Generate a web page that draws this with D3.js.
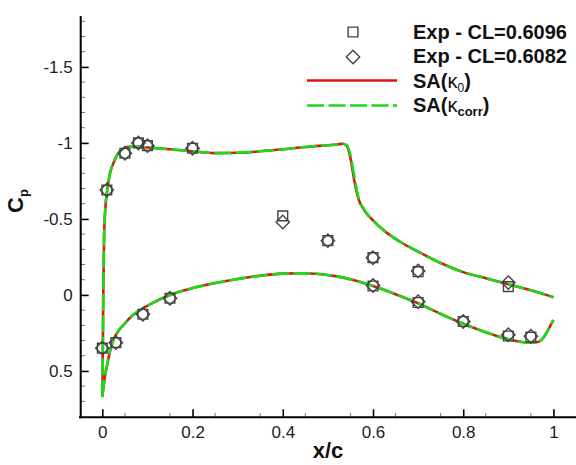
<!DOCTYPE html>
<html>
<head>
<meta charset="utf-8">
<script src="https://cdn.jsdelivr.net/npm/d3@7/dist/d3.min.js"></script>
<style>
  html, body { margin: 0; padding: 0; background: #fff; }
  svg { display: block; font-family: "Liberation Sans", Arial, sans-serif; }
</style>
</head>
<body>
<svg id="chart" width="576" height="465"></svg>
<script>
// ---- Data ----
const upperX = [0, 0.0008, 0.002, 0.004, 0.007, 0.011, 0.017, 0.025, 0.039, 0.06, 0.08, 0.1, 0.15, 0.2, 0.25, 0.3, 0.35, 0.4, 0.45, 0.5, 0.52, 0.533, 0.542, 0.55, 0.558, 0.568, 0.58, 0.6, 0.63, 0.66, 0.7, 0.75, 0.8, 0.85, 0.9, 0.95, 1.0];
const upperK0 = [0.67, 0.47, 0.03, -0.4, -0.58, -0.69, -0.8, -0.87, -0.945, -0.975, -0.975, -0.97, -0.958, -0.945, -0.933, -0.935, -0.945, -0.958, -0.973, -0.985, -0.99, -0.995, -0.98, -0.9, -0.76, -0.63, -0.56, -0.49, -0.41, -0.35, -0.285, -0.21, -0.15, -0.11, -0.07, -0.03, 0.015];
const upperKc = [0.67, 0.47, 0.03, -0.4, -0.58, -0.69, -0.8, -0.87, -0.945, -0.975, -0.975, -0.97, -0.958, -0.945, -0.933, -0.935, -0.945, -0.958, -0.973, -0.985, -0.99, -0.995, -0.985, -0.92, -0.79, -0.64, -0.565, -0.49, -0.41, -0.35, -0.285, -0.21, -0.15, -0.11, -0.07, -0.03, 0.015];
const lowerX = [0, 0.002, 0.005, 0.01, 0.017, 0.024, 0.035, 0.047, 0.065, 0.084, 0.11, 0.15, 0.2, 0.25, 0.3, 0.35, 0.4, 0.44, 0.48, 0.52, 0.56, 0.6, 0.65, 0.7, 0.75, 0.8, 0.85, 0.9, 0.93, 0.95, 0.965, 0.978, 0.99, 1.0];
const lowerK0 = [0.67, 0.62, 0.55, 0.47, 0.37, 0.3, 0.24, 0.197, 0.14, 0.099, 0.055, 0.0, -0.045, -0.078, -0.105, -0.126, -0.14, -0.143, -0.138, -0.122, -0.095, -0.059, -0.005, 0.055, 0.125, 0.19, 0.245, 0.292, 0.31, 0.314, 0.31, 0.28, 0.22, 0.165];
const lowerKc = lowerK0.slice();

// Experimental data
const exp1X  = [0.01, 0.05, 0.08, 0.1, 0.2, 0.4, 0.5, 0.6, 0.7, 0.9, 0, 0.03, 0.09, 0.15, 0.6, 0.7, 0.8, 0.9, 0.95];
const exp1Cp = [-0.69, -0.932, -1.0, -0.982, -0.965, -0.52, -0.357, -0.245, -0.153, -0.055, 0.35, 0.314, 0.127, 0.022, -0.059, 0.05, 0.175, 0.27, 0.278];
const exp2X  = [0.01, 0.05, 0.08, 0.1, 0.2, 0.4, 0.5, 0.6, 0.7, 0.9, 0, 0.03, 0.09, 0.15, 0.6, 0.7, 0.8, 0.9, 0.95];
const exp2Cp = [-0.69, -0.932, -1.0, -0.982, -0.965, -0.48, -0.357, -0.245, -0.158, -0.081, 0.35, 0.314, 0.127, 0.022, -0.062, 0.045, 0.175, 0.262, 0.272];

const xTicks = [0, 0.2, 0.4, 0.6, 0.8, 1];
const xTickLabels = ["0", "0.2", "0.4", "0.6", "0.8", "1"];
const yTicks = [-1.5, -1, -0.5, 0, 0.5];
const yTickLabels = ["-1.5", "-1", "-0.5", "0", "0.5"];

// ---- Setup ----
const svg = d3.select("#chart");
const x = d3.scaleLinear().domain([-0.0517, 1.05]).range([79, 576]);
const y = d3.scaleLinear().domain([-1.835, 0.805]).range([16, 417.3]);

const RED = "#e01414", GREEN = "#18dc18", MARK = "#444";

// Lines
const line = d3.line().x(d => x(d[0])).y(d => y(d[1])).curve(d3.curveMonotoneX);
const zip = (a, b) => a.map((v, i) => [v, b[i]]);

const gLines = svg.append("g");
[[upperX, upperK0], [lowerX, lowerK0]].forEach(([xs, ys]) => {
  gLines.append("path").attr("d", line(zip(xs, ys)))
    .attr("fill", "none").attr("stroke", RED).attr("stroke-width", 2.6);
});
[[upperX, upperKc], [lowerX, lowerKc]].forEach(([xs, ys]) => {
  gLines.append("path").attr("d", line(zip(xs, ys)))
    .attr("fill", "none").attr("stroke", GREEN).attr("stroke-width", 2.6)
    .attr("stroke-dasharray", "17,4.5");
});

// Markers
const sq = d3.symbol().type(d3.symbolSquare).size(95);
const dm = d3.symbol().type(d3.symbolSquare).size(90);
const gM = svg.append("g");
exp1X.forEach((xv, i) => {
  gM.append("path").attr("d", sq())
    .attr("transform", `translate(${x(xv)},${y(exp1Cp[i])})`)
    .attr("fill", "none").attr("stroke", MARK).attr("stroke-width", 1.4);
});
exp2X.forEach((xv, i) => {
  gM.append("path").attr("d", dm())
    .attr("transform", `translate(${x(xv)},${y(exp2Cp[i])}) rotate(45)`)
    .attr("fill", "none").attr("stroke", MARK).attr("stroke-width", 1.4);
});

// Axes
const xAxis = d3.axisBottom(x).tickValues(xTicks).tickFormat((d, i) => xTickLabels[i])
  .tickSizeInner(-8).tickSizeOuter(0).tickPadding(18);
const gx = svg.append("g").attr("transform", "translate(0,417.3)").call(xAxis);
gx.select(".domain").remove();
gx.selectAll(".tick line").attr("stroke", "#000").attr("stroke-width", 1.6);
gx.selectAll(".tick text").attr("font-size", 17).attr("fill", "#222")
  .attr("font-family", "Liberation Sans, Arial, sans-serif").attr("y", 9).attr("dy", "0.71em");

const xMinor = d3.range(0.05, 1.0, 0.1);
svg.append("g").selectAll("line").data(xMinor).join("line")
  .attr("x1", d => x(d)).attr("x2", d => x(d)).attr("y1", 417.3).attr("y2", 413)
  .attr("stroke", "#777").attr("stroke-width", 1);

const yAxis = d3.axisLeft(y).tickValues(yTicks).tickFormat((d, i) => yTickLabels[i])
  .tickSizeInner(-8).tickSizeOuter(0).tickPadding(8);
const gy = svg.append("g").attr("transform", "translate(80.7,0)").call(yAxis);
gy.select(".domain").remove();
gy.selectAll(".tick line").attr("stroke", "#000").attr("stroke-width", 1.6);
gy.selectAll(".tick text").attr("font-size", 17).attr("fill", "#222")
  .attr("font-family", "Liberation Sans, Arial, sans-serif").attr("x", -8);

const yMinor = d3.range(-1.8, 0.75, 0.1).filter(v => Math.abs(v * 2 - Math.round(v * 2)) > 1e-6);
svg.append("g").selectAll("line").data(yMinor).join("line")
  .attr("y1", d => y(d)).attr("y2", d => y(d)).attr("x1", 80.7).attr("x2", 85)
  .attr("stroke", "#777").attr("stroke-width", 1);

// axis lines
svg.append("line").attr("x1", 80.7).attr("x2", 80.7).attr("y1", 16).attr("y2", 418.3)
  .attr("stroke", "#000").attr("stroke-width", 2);
svg.append("line").attr("x1", 79).attr("x2", 576).attr("y1", 417.3).attr("y2", 417.3)
  .attr("stroke", "#000").attr("stroke-width", 2);

// Axis titles
svg.append("text").attr("x", 328).attr("y", 458).attr("text-anchor", "middle")
  .attr("font-size", 22).attr("font-weight", "bold").attr("fill", "#111").text("x/c");
const cp = svg.append("text").attr("transform", "translate(23,201) rotate(-90)")
  .attr("text-anchor", "middle").attr("font-size", 22).attr("font-weight", "bold").attr("fill", "#111");
cp.append("tspan").text("C");
cp.append("tspan").attr("font-size", 13).attr("dy", 5).text("p");

// Legend
const lg = svg.append("g");
lg.append("path").attr("d", sq()).attr("transform", "translate(353,32)")
  .attr("fill", "none").attr("stroke", MARK).attr("stroke-width", 1.4);
lg.append("path").attr("d", dm()).attr("transform", "translate(353,57) rotate(45)")
  .attr("fill", "none").attr("stroke", MARK).attr("stroke-width", 1.4);
lg.append("line").attr("x1", 307).attr("x2", 397).attr("y1", 80.5).attr("y2", 80.5)
  .attr("stroke", RED).attr("stroke-width", 2.6);
lg.append("line").attr("x1", 307).attr("x2", 397).attr("y1", 105.5).attr("y2", 105.5)
  .attr("stroke", GREEN).attr("stroke-width", 2.6).attr("stroke-dasharray", "17,4.5");

const legTexts = [
  { y: 38.5, parts: [["Exp - CL=0.6096", "bold", 0, 20]] },
  { y: 62.5, parts: [["Exp - CL=0.6082", "bold", 0, 20]] },
  { y: 87.5, parts: [["SA(", "bold", 0, 20], ["κ", "normal", 0, 20], ["0", "normal", 4, 12], [")", "bold", -4, 20]] },
  { y: 112, parts: [["SA(", "bold", 0, 20], ["κ", "normal", 0, 20], ["corr", "bold", 4, 13], [")", "bold", -4, 20]] }
];
legTexts.forEach(row => {
  const t = lg.append("text").attr("x", 413).attr("y", row.y).attr("fill", "#111");
  row.parts.forEach(p => {
    t.append("tspan").text(p[0]).attr("font-weight", p[1]).attr("dy", p[2]).attr("font-size", p[3]);
  });
});
</script>
</body>
</html>
